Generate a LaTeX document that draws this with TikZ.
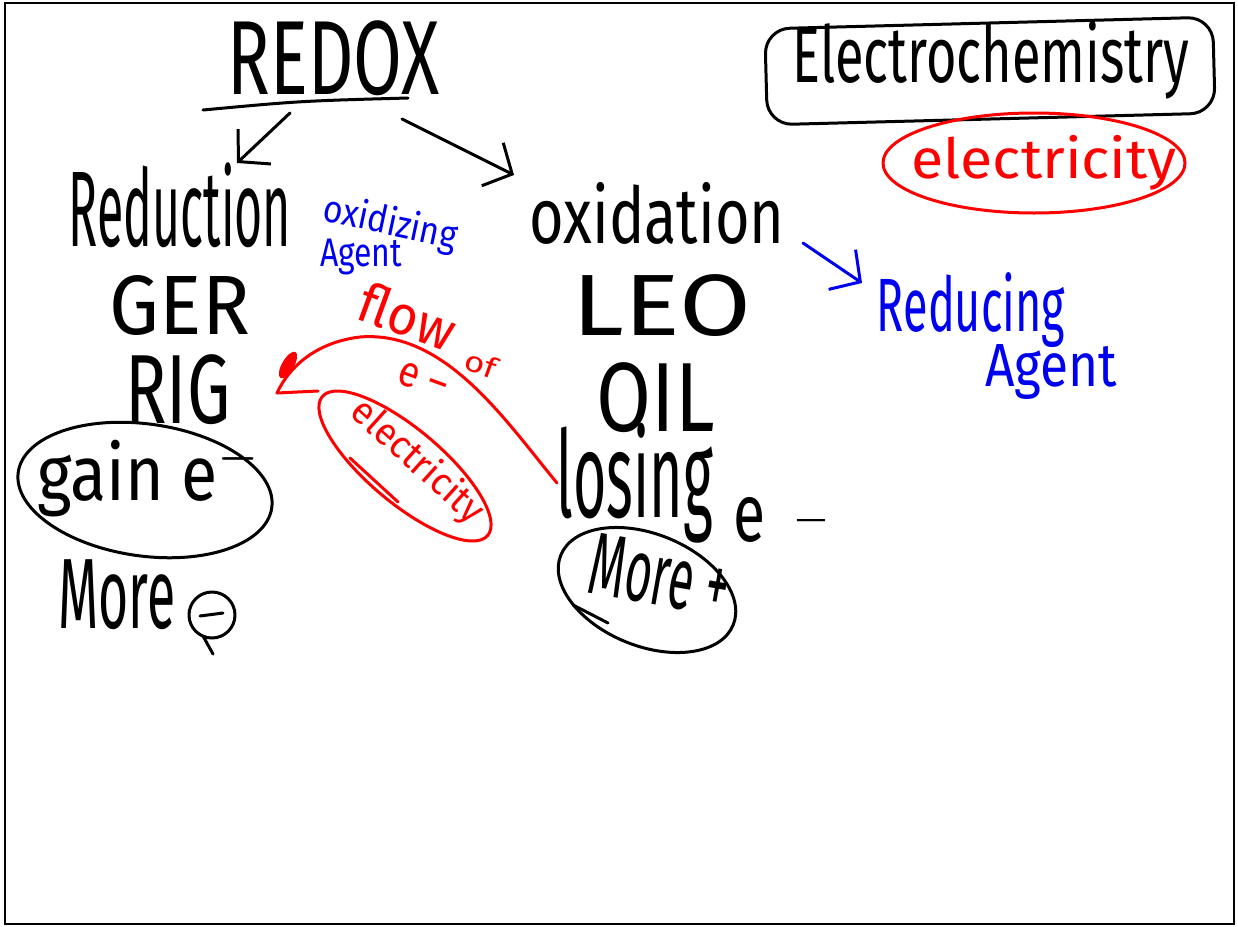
\documentclass[tikz,border=0pt]{standalone}
\usepackage{fontspec}
\setmainfont{Fira Sans}
\usepackage{graphicx}
\usetikzlibrary{arrows.meta,shapes.geometric}
\newcommand{\hwbox}[3]{\resizebox*{#1pt}{#2pt}{#3}}
\definecolor{inkred}{RGB}{255,0,0}
\definecolor{inkblue}{RGB}{0,0,240}
\begin{document}
\begin{tikzpicture}[x=1pt,y=-1pt,
  ink/.style={line width=3pt, line cap=round, line join=round},
  txt/.style={inner sep=0pt, outer sep=0pt},
  barb/.style={-{Straight Barb[length=22pt,width=48pt,line width=3pt]}}]
\useasboundingbox (0,0) rectangle (1238,926);
\fill[white] (0,0) rectangle (1238,926);
\draw[line width=2pt] (5,3) rectangle (1234,924);

% REDOX title
\node[txt] (redox) at (334,58) {\hwbox{212}{75}{REDOX}};
\draw[ink] (203,110) .. controls (300,101) .. (408,98);
\coordinate (ls) at (290,113);
\coordinate (le) at (237,163);
\coordinate (rs) at (402,119);
\coordinate (re) at (514,175);
\draw[ink,barb] (ls) -- (le);
\draw[ink,barb] (rs) -- (re);

% Reduction column
\node[txt] (red) at (180,205) {\hwbox{222}{85}{Reduction}};
\node[txt] (ger) at (180,305) {\hwbox{140}{60}{GER}};
\node[txt] (rig) at (178,390) {\hwbox{105}{70}{RIG}};
\node[txt] (gain) at (150,478) {\hwbox{225}{78}{gain e$^{-}$}};
\draw[ink,rotate around={-8:(145,490)}] (145,490) ellipse [x radius=128, y radius=66];
\node[txt] (more1) at (117,595) {\hwbox{117}{70}{More}};
\node[circle,draw,ink,minimum size=46pt,inner sep=0pt] (minus) at (212,615) {};
\draw[ink] (200,616) -- (223,613);
\draw[ink] (203,636) -- (213,654);

% oxidizing agent
\node[txt,inkblue,rotate=-12] (oxag) at (390,224) {\hwbox{136}{38}{oxidizing}};
\node[txt,inkblue] (ag1) at (361,257) {\hwbox{82}{36}{Agent}};

% flow of e-
\node[txt,inkred,rotate=-20] (flow) at (408,316) {\hwbox{98}{42}{flow}};
\node[txt,inkred,rotate=-20] (of) at (481,364) {\hwbox{32}{22}{of}};
\node[txt,inkred,rotate=-20] (em) at (423,380) {\hwbox{50}{24}{e –}};

% oxidation column
\node[txt] (ox) at (657,213) {\hwbox{255}{62}{oxidation}};
\node[txt] (leo) at (662,306) {\hwbox{178}{62}{LEO}};
\node[txt] (oil) at (656,398) {\hwbox{118}{70}{OIL}};
\node[txt] (losing) at (635,483) {\hwbox{156}{120}{losing}};
\node[txt] (e2) at (749,520) {\hwbox{32}{45}{e}};
\node[txt] (d2) at (811,524) {\hwbox{32}{10}{–}};
\draw[ink,rotate around={-22:(647,590)}] (647,590) ellipse [x radius=93, y radius=56];
\draw[ink] (573,605) -- (608,623);
\node[txt,rotate=-10] (more2) at (660,575) {\hwbox{140}{62}{More +}};

% red flow arrow
\coordinate (fe) at (277,393);
\draw[ink,inkred] (losing.west) .. controls (505,420) and (445,330) .. (360,337)
   .. controls (318,342) and (290,365) .. (fe) -- (318,391);
\fill[inkred,rotate around={60:(288,365)}] (288,365) ellipse [x radius=15, y radius=6];

% red electricity ellipse
\draw[ink,inkred,rotate around={-40:(405,466)}] (405,466) ellipse [x radius=108, y radius=37];
\node[txt,inkred,rotate=-42] (elec1) at (417,462) {\hwbox{165}{38}{electricity}};
\draw[ink,inkred] (350,458) -- (398,502);

% Electrochemistry
\node[draw,ink,rounded corners=25pt,rotate=1.5,minimum width=448pt,minimum height=96pt] (ecbox) at (990,71) {};
\node[txt] (ec) at (991,60) {\hwbox{397}{78}{Electrochemistry}};
\draw[ink,inkred] (1034,163) ellipse [x radius=151, y radius=50];
\node[txt,inkred] (elec2) at (1044,163) {\hwbox{265}{55}{electricity}};

% Reducing agent
\coordinate (bs) at (803,243);
\coordinate (be) at (862,283);
\node[txt,inkblue] (reduc) at (971,310) {\hwbox{188}{75}{Reducing}};
\node[txt,inkblue] (ag2) at (1051,372) {\hwbox{132}{55}{Agent}};
\draw[ink,inkblue,barb] (bs) -- (be);
\end{tikzpicture}
\end{document}
